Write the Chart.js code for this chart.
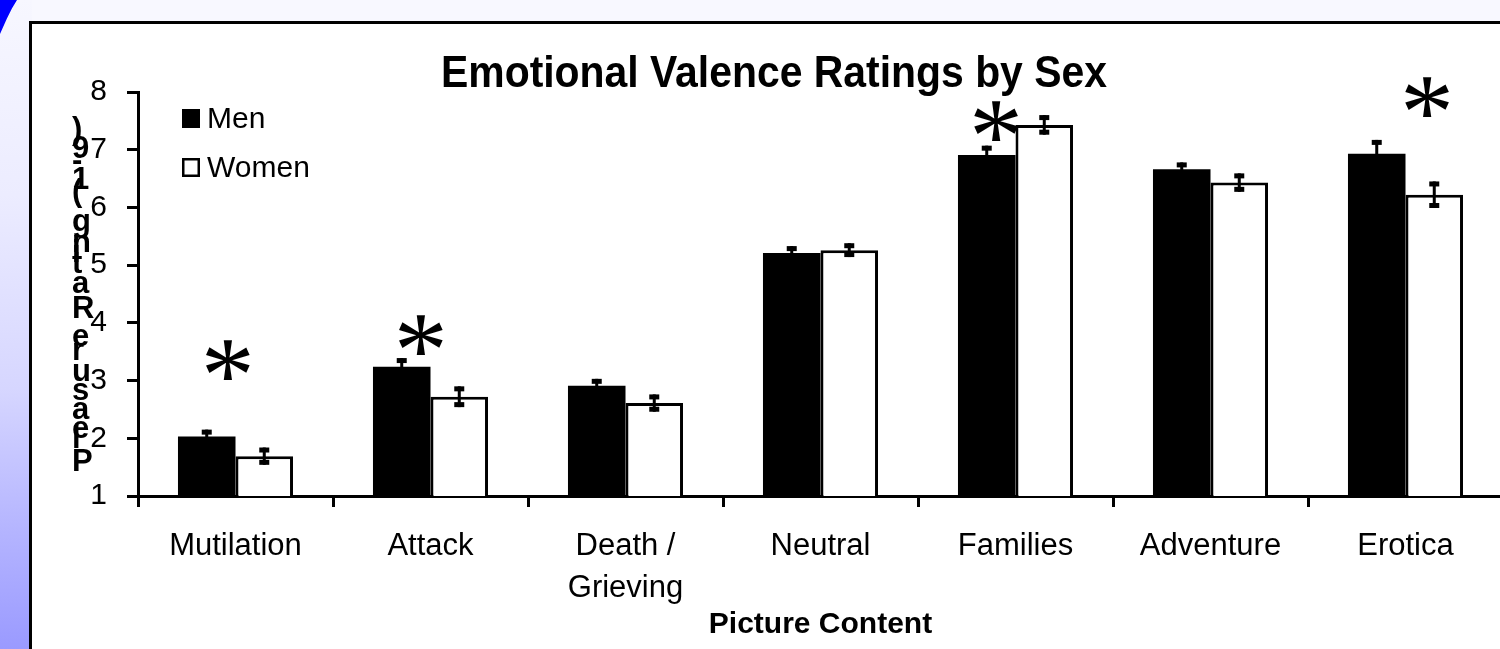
<!DOCTYPE html>
<html>
<head>
<meta charset="utf-8">
<script src="https://cdn.jsdelivr.net/npm/chart.js@4.4.1/dist/chart.umd.min.js"></script>
<style>
html, body { margin:0; padding:0; width:1500px; height:649px; overflow:hidden; background:#f8f8ff; }
#side { position:absolute; left:0; top:0; width:32px; height:649px;
  background:linear-gradient(to bottom, #f7f7ff 0%, #ececff 30%, #d6d6ff 60%, #b4b4ff 82%, #9a9aff 100%); }
#corner { position:absolute; left:0; top:0; width:17px; height:34px; background:#0000ff;
  clip-path:polygon(0 0, 100% 0, 70% 25%, 40% 55%, 0 100%); }
#panel { position:absolute; left:29px; top:21px; width:1600px; height:800px; background:#fff;
  border-left:3px solid #000; border-top:3px solid #000; }
#chart { position:absolute; left:0; top:0; }
</style>
</head>
<body>
<div id="side"></div>
<div id="corner"></div>
<div id="panel"></div>
<canvas id="chart" width="1520" height="649"></canvas>
<script>
// ==========================================
// DATA
// ==========================================

const categories = ["Mutilation", "Attack", ["Death /", "Grieving"], "Neutral", "Families", "Adventure", "Erotica"];

const menMeans   = [2.03, 3.24, 2.91, 5.21, 6.91, 6.66, 6.93];
const menErr     = [0.12, 0.15, 0.12, 0.12, 0.16, 0.12, 0.24];

const womenMeans = [1.69, 2.72, 2.61, 5.26, 7.43, 6.43, 6.22];
const womenErr   = [0.15, 0.18, 0.15, 0.12, 0.17, 0.16, 0.23];

// significance asterisks (x in category units, y in rating units)
const sigX = [-0.04, 0.95, 3.90, 6.11];
const sigY = [3.36, 3.79, 7.49, 7.92];

const yTicks = [1, 2, 3, 4, 5, 6, 7, 8];

const chartTitle = "Emotional Valence Ratings by Sex";
const yTitle = "Pleasure Rating (1-9)";
const xTitle = "Picture Content";

const FONT = '"Liberation Sans", Arial, sans-serif';

// ==========================================
// PLUGINS
// ==========================================

const errorBars = {
    id: "errorBars",
    afterDatasetsDraw(chart) {
        const ctx = chart.ctx;
        const y = chart.scales.y;
        [menErr, womenErr].forEach((errs, i) => {
            const meta = chart.getDatasetMeta(i);
            const vals = chart.data.datasets[i].data;
            meta.data.forEach((bar, j) => {
                const top = y.getPixelForValue(vals[j] + errs[j]);
                const bot = y.getPixelForValue(vals[j] - errs[j]);
                ctx.save();
                ctx.fillStyle = "#000";
                ctx.fillRect(bar.x - 1.5, top, 3, bot - top);
                ctx.fillRect(bar.x - 5, top, 10, 5);
                ctx.fillRect(bar.x - 5, bot - 5, 10, 5);
                ctx.restore();
            });
        });
    }
};

const asterisks = {
    id: "asterisks",
    afterDatasetsDraw(chart) {
        const ctx = chart.ctx;
        const xs = chart.scales.x, ys = chart.scales.y;
        const glyph = "*";
        const face = '"Liberation Serif", "Times New Roman", serif';
        ctx.save();
        ctx.fillStyle = "#000";
        ctx.textAlign = "left";
        ctx.textBaseline = "alphabetic";
        ctx.font = "100px " + face;
        let m = ctx.measureText(glyph);
        const size = 100 * 40 / (m.actualBoundingBoxAscent + m.actualBoundingBoxDescent);
        ctx.font = size + "px " + face;
        m = ctx.measureText(glyph);
        sigX.forEach((sx, i) => {
            const cx = xs.getPixelForValue(sx);
            const cy = ys.getPixelForValue(sigY[i]);
            const px = cx - (m.actualBoundingBoxRight - m.actualBoundingBoxLeft) / 2;
            const py = cy + (m.actualBoundingBoxAscent - m.actualBoundingBoxDescent) / 2;
            ctx.fillText(glyph, px, py);
        });
        ctx.restore();
    }
};

const decorations = {
    id: "decorations",
    afterDraw(chart) {
        const ctx = chart.ctx;
        ctx.save();
        ctx.fillStyle = "#000";

        // title
        ctx.font = "bold 44px " + FONT;
        ctx.textAlign = "center";
        ctx.textBaseline = "alphabetic";
        ctx.fillText(chartTitle, 774, 87, 666);

        // y title, glyphs stacked upright
        ctx.textAlign = "left";
        let cum = 0;
        for (const ch of yTitle) {
            ctx.font = "bold 31px " + FONT;
            ctx.fillText(ch, 72, 471 - cum);
            ctx.font = "bold 34.5px " + FONT;
            cum += ctx.measureText(ch).width;
        }

        // legend
        ctx.font = "30px " + FONT;
        chart.data.datasets.forEach((ds, i) => {
            const top = 109 + i * 49;
            ctx.fillStyle = ds.backgroundColor;
            ctx.fillRect(182, top, 18, 19);
            ctx.strokeStyle = "#000";
            ctx.lineWidth = 2.5;
            ctx.strokeRect(183.25, top + 1.25, 15.5, 16.5);
            ctx.fillStyle = "#000";
            ctx.fillText(ds.label, 207, top + 19);
        });
        ctx.restore();
    }
};

// ==========================================
// CHART
// ==========================================

new Chart(document.getElementById("chart"), {

    type: "bar",

    data: {
        labels: categories,
        datasets: [{
            label: "Men",
            data: menMeans,
            backgroundColor: "#000000",
            borderColor: "#000000",
            borderWidth: 0
        }, {
            label: "Women",
            data: womenMeans,
            backgroundColor: "#ffffff",
            borderColor: "#000000",
            borderWidth: 3
        }]
    },

    plugins: [errorBars, asterisks, decorations],

    options: {
        responsive: false,
        animation: false,
        barPercentage: 1,
        categoryPercentage: 0.59,
        layout: { padding: { left: 0, top: 92, right: 17, bottom: 0 } },
        plugins: {
            legend: { display: false },
            tooltip: { enabled: false },
            title: { display: false }
        },
        scales: {
            x: {
                type: "category",
                offset: true,
                afterFit(scale) { scale.height = 153; },
                grid: {
                    offset: true,
                    drawOnChartArea: false,
                    drawTicks: true,
                    tickLength: 11,
                    tickWidth: 3,
                    tickColor: "#000"
                },
                border: { display: true, color: "#000", width: 3 },
                ticks: {
                    color: "#000",
                    padding: 19,
                    maxRotation: 0,
                    autoSkip: false,
                    font: { family: FONT, size: 31, lineHeight: 1.35 }
                },
                title: {
                    display: true,
                    text: xTitle,
                    color: "#000",
                    padding: { top: 0, bottom: 6 },
                    font: { family: FONT, size: 30, weight: "bold" }
                }
            },
            y: {
                min: 1,
                max: 8,
                afterFit(scale) { scale.width = 138; },
                afterBuildTicks(scale) { scale.ticks = yTicks.map(v => ({ value: v })); },
                grid: {
                    drawOnChartArea: false,
                    drawTicks: true,
                    tickLength: 11,
                    tickWidth: 3,
                    tickColor: "#000"
                },
                border: { display: true, color: "#000", width: 3 },
                ticks: {
                    color: "#000",
                    padding: 20,
                    font: { family: FONT, size: 30 }
                }
            }
        }
    }
});
</script>
</body>
</html>
